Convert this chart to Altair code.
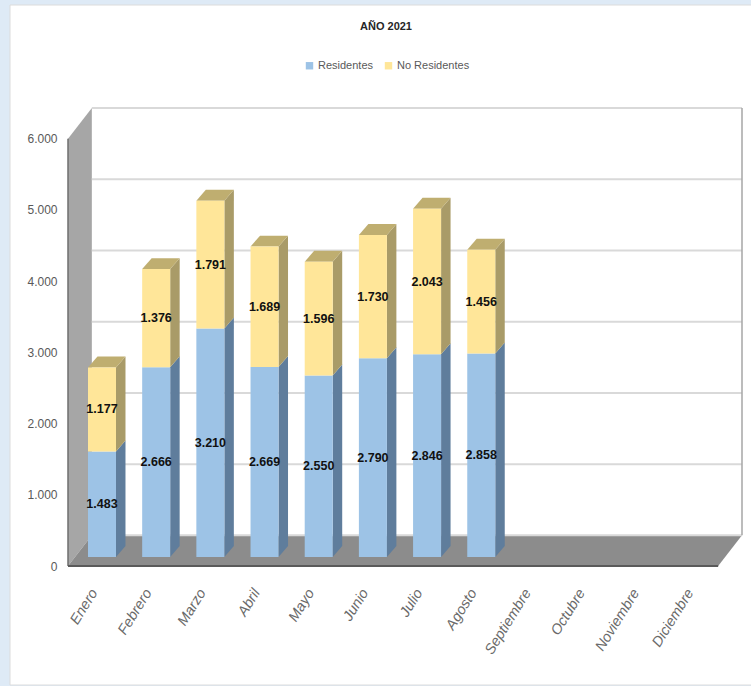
import json
import altair as alt
import pandas as pd

MONTHS = ["Enero", "Febrero", "Marzo", "Abril", "Mayo", "Junio", "Julio", "Agosto",
          "Septiembre", "Octubre", "Noviembre", "Diciembre"]
RESIDENTES = [1483, 2666, 3210, 2669, 2550, 2790, 2846, 2858]
NO_RESIDENTES = [1177, 1376, 1791, 1689, 1596, 1730, 2043, 1456]
TICKS = [0, 1000, 2000, 3000, 4000, 5000, 6000]
SERIES = ["Residentes", "No Residentes"]

FONT = "Liberation Sans"

# Pseudo-3D box: depth is expressed in axis units (months, visitors)
WALL_X, WALL_Y = 0.44, 430
BAR_LEFT, BAR_W = 0.369, 0.517
SIDE_X, SIDE_Y = 0.175, 154
BASE = 126
X_MAX, Y_MAX = 12 + WALL_X, 6000 + WALL_Y

xs = alt.Scale(domain=[0, X_MAX], nice=False, zero=False)
ys = alt.Scale(domain=[0, Y_MAX], nice=False, zero=False)

month_expr = json.dumps(MONTHS) + "[floor(datum.value)]"
x_axis = alt.Axis(
    values=[i + 0.5 for i in range(12)], labelExpr=month_expr, title=None, domain=False,
    ticks=False, grid=False, labelAngle=302, labelAlign="right", labelBaseline="middle",
    labelPadding=24, labelOffset=-1, labelFont=FONT, labelFontSize=14.5, labelFontStyle="italic",
    labelColor="#6a6a6a", labelOverlap=False, labelFlush=False, labelBound=False, zindex=1,
)
y_axis = alt.Axis(
    values=TICKS, labelExpr="replace(format(datum.value, ','), ',', '.')", title=None,
    domain=False, ticks=False, grid=False, labelPadding=11, labelFont=FONT,
    labelFontSize=12, labelColor="#595959", labelOverlap=False, labelFlush=False,
    labelBound=False, zindex=1,
)


def qx(field="x"):
    return alt.X(f"{field}:Q", scale=xs, axis=x_axis)


def qy(field="y"):
    return alt.Y(f"{field}:Q", scale=ys, axis=y_axis)


front, side, top, labels = [], [], [], []
for i, (r, n) in enumerate(zip(RESIDENTES, NO_RESIDENTES)):
    left = i + BAR_LEFT
    right = left + BAR_W
    low = BASE
    for name, v in zip(SERIES, (r, n)):
        high = low + v
        front.append(dict(serie=name, x=left, x2=right, y=low, y2=high))
        for step in (0, 1):
            side.append(dict(key=f"{name}{i}", serie=name, x=right + step * SIDE_X,
                             y=low + step * SIDE_Y, y2=high + step * SIDE_Y))
        labels.append(dict(x=(left + right) / 2, y=(low + high) / 2,
                           text=f"{v:,}".replace(",", ".")))
        low = high
    for step in (0, 1):
        top.append(dict(key=str(i), x=left + step * SIDE_X, x2=right + step * SIDE_X,
                        y=low + step * SIDE_Y))

front, side, top, labels = map(pd.DataFrame, (front, side, top, labels))

panel = alt.Chart(pd.DataFrame({"p": [0]})).mark_rect(
    fill="#ffffff", stroke="#dcdcdc", strokeWidth=1
).encode(x=alt.value(-58), x2=alt.value(690), y=alt.value(-103), y2=alt.value(577))

left_wall = alt.Chart(pd.DataFrame(
    {"x": [0, WALL_X], "y": [0, WALL_Y], "y2": [6000, Y_MAX]}
)).mark_area(orient="vertical", color="#a6a6a6").encode(x=qx(), y=qy(), y2="y2:Q")

floor = alt.Chart(pd.DataFrame(
    {"x": [0, WALL_X], "x2": [12, X_MAX], "y": [0, WALL_Y]}
)).mark_area(orient="horizontal", color="#8c8c8c").encode(x=qx(), x2="x2:Q", y=qy())

grid = alt.Chart(pd.DataFrame({"y": [t + WALL_Y for t in TICKS], "x": WALL_X, "x2": X_MAX})).mark_rule(
    color="#d9d9d9", strokeWidth=2
).encode(x=qx(), x2="x2:Q", y=qy())

right_edge = alt.Chart(pd.DataFrame({"x": [X_MAX], "y": [WALL_Y], "y2": [Y_MAX]})).mark_rule(
    color="#a6a6a6", strokeWidth=1.5
).encode(x=qx(), y=qy(), y2="y2:Q")

left_edge = alt.Chart(pd.DataFrame({"x": [0], "y": [0], "y2": [6000]})).mark_rule(
    color="#6e6e6e", strokeWidth=1.5
).encode(x=qx(), y=qy(), y2="y2:Q")

floor_edge = alt.Chart(pd.DataFrame({"x": [0], "x2": [12], "y": [0]})).mark_rule(
    color="#5a5a5a", strokeWidth=2
).encode(x=qx(), x2="x2:Q", y=qy())

side_faces = alt.Chart(side).mark_area(orient="vertical").encode(
    x=qx(), y=qy(), y2="y2:Q", detail="key:N",
    fill=alt.Fill("serie:N", scale=alt.Scale(domain=SERIES, range=["#5f7d9c", "#a99b68"]), legend=None),
)

top_faces = alt.Chart(top).mark_area(orient="horizontal", color="#bfae70").encode(
    x=qx(), x2="x2:Q", y=qy(), detail="key:N"
)

front_faces = alt.Chart(front).mark_rect().encode(
    x=qx(),
    x2="x2:Q",
    y=qy(),
    y2="y2:Q",
    color=alt.Color("serie:N", scale=alt.Scale(domain=SERIES, range=["#9dc3e6", "#ffe699"]),
                    sort=SERIES, legend=alt.Legend(
        title=None, orient="none", legendX=236, legendY=-48, direction="horizontal",
        symbolType="square", symbolSize=55, symbolStrokeWidth=0, labelFont=FONT,
        labelFontSize=11, labelColor="#595959", columnPadding=9, labelOffset=3,
    )),
)

value_labels = alt.Chart(labels).mark_text(
    font=FONT, fontSize=12.5, fontWeight="bold", color="#111111"
).encode(x=qx(), y=qy(), text="text:N")

chart = alt.layer(
    panel, left_wall, floor, grid, right_edge, left_edge, floor_edge,
    side_faces, top_faces, front_faces, value_labels,
).resolve_scale(color="independent", fill="independent").properties(
    width=674,
    height=458,
    background="#deeaf6",
    padding={"left": 68, "top": 108, "right": 9, "bottom": 120},
    autosize=alt.AutoSizeParams(type="none"),
    title=alt.TitleParams("AÑO 2021", font=FONT, fontSize=11, fontWeight="bold",
                          color="#262626", anchor="middle", dx=-19, offset=-27),
).configure_view(stroke=None)

chart.save("out.html", embed_options={"renderer": "svg", "actions": False})
